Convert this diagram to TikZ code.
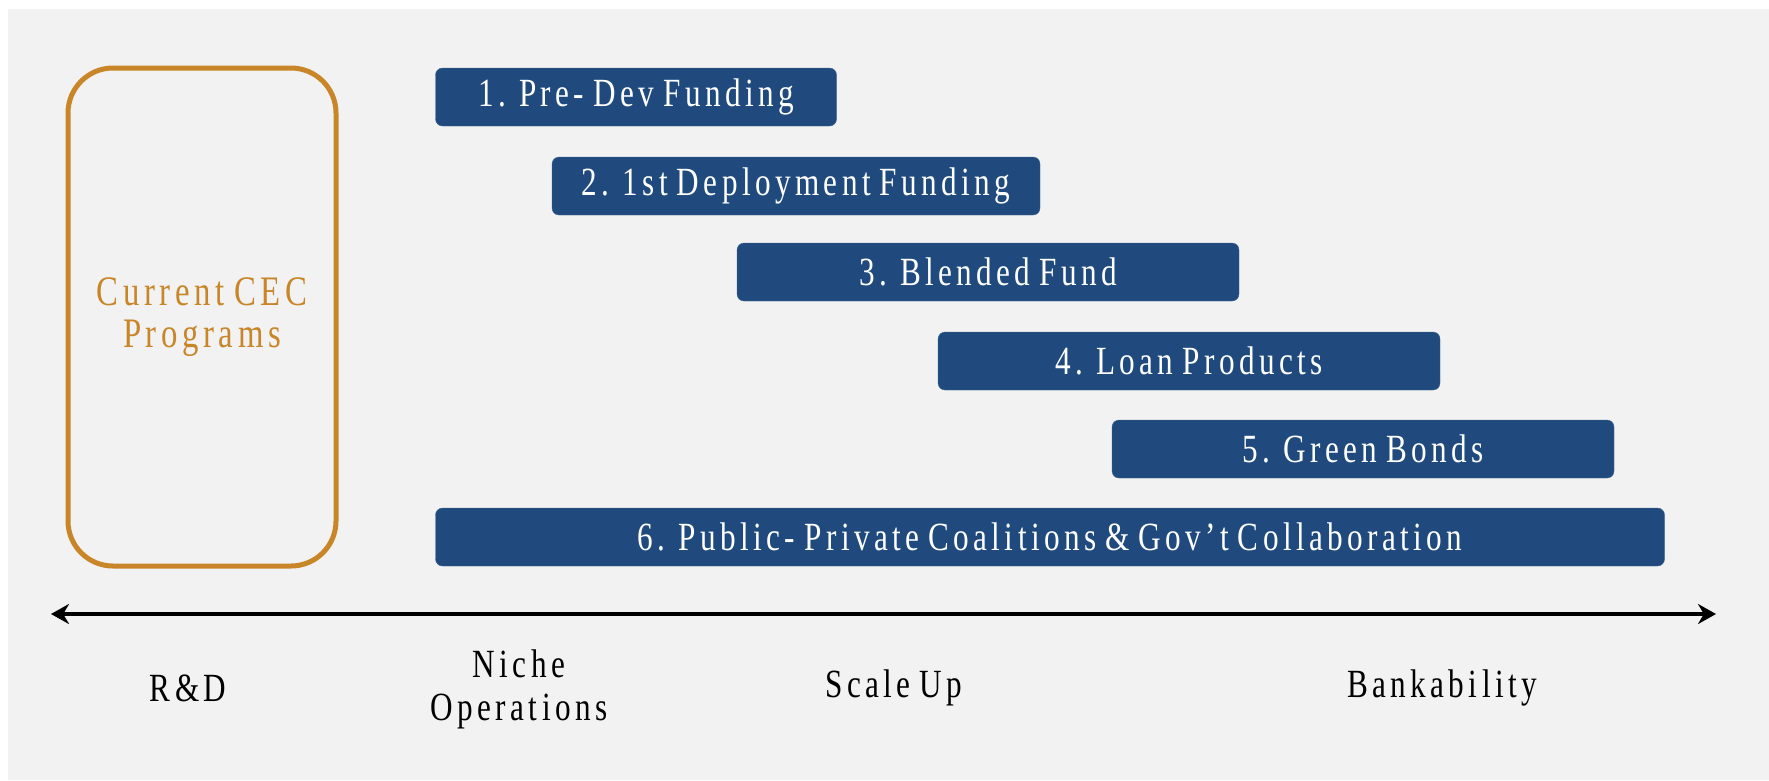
\documentclass[tikz,border=0pt]{standalone}
\usepackage{fontspec}
\setmainfont{Liberation Serif}[FakeStretch=0.78,LetterSpace=11,WordSpace=0.75]
\usetikzlibrary{arrows.meta}
\definecolor{fundblue}{RGB}{32,74,126}
\definecolor{cecorange}{RGB}{200,134,40}
\definecolor{panelgray}{RGB}{242,242,242}
\tikzset{font=\fontsize{40}{42}\selectfont}

\begin{document}
\begin{tikzpicture}[x=1pt,y=-1pt,
    fund/.style={fill=fundblue,draw=fundblue!85!white,rounded corners=7pt,minimum height=58pt,text=white,inner sep=0pt},
    stage/.style={align=center,font=\fontsize{40}{43}\selectfont}]
      \useasboundingbox (0,0) rectangle (1769,780);
      \fill[panelgray] (8,9) rectangle (1769,780);

      \node[draw=cecorange,line width=5pt,rounded corners=45pt,minimum width=268pt,minimum height=498pt,text=cecorange,align=center,font=\fontsize{42}{42}\selectfont] (CEC) at (202,317) {Current CEC\\Programs};

      \node[fund,minimum width=401pt] (F1) at (636,97) {1. Pre- Dev Funding};
      \node[fund,minimum width=488pt] (F2) at (796,186) {2. 1st Deployment Funding};
      \node[fund,minimum width=502pt] (F3) at (988,272) {3. Blended Fund};
      \node[fund,minimum width=502pt] (F4) at (1189,361) {4. Loan Products};
      \node[fund,minimum width=502pt] (F5) at (1363,449) {5. Green Bonds};
      \node[fund,minimum width=1229pt] (F6) at (1050,537) {6. Public- Private Coalitions \& Gov’t Collaboration};

      \coordinate (AxL) at (51,614);
      \coordinate (AxR) at (1716,614);
      \path [{Stealth[length=18pt,width=20pt]}-{Stealth[length=18pt,width=20pt]},line width=4pt](AxL) edge node {} (AxR);

      \node[stage] (RD) at (188,688) {R\&D};
      \node[stage] (Niche) at (519,689) {Niche\\Operations};
      \node[stage] (Scale) at (894,688) {Scale Up};
      \node[stage] (Bank) at (1442,688) {Bankability};
\end{tikzpicture}
\end{document}
